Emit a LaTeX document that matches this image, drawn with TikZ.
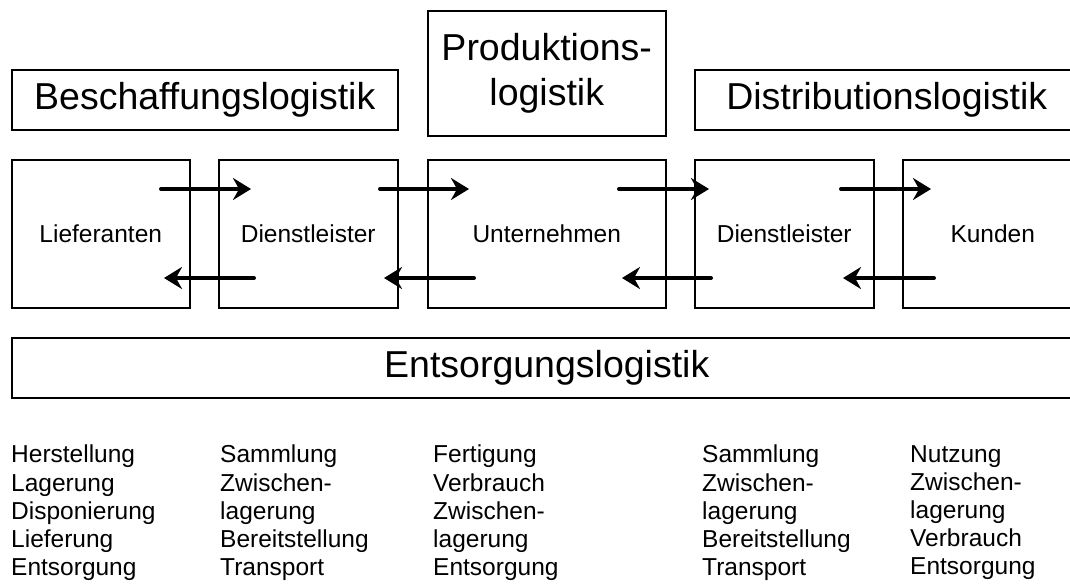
\documentclass[tikz,border=0pt]{standalone}
\usepackage{fontspec}
\setmainfont{Liberation Sans}
\usetikzlibrary{arrows.meta}

\tikzset{
  box/.style={draw, line width=1.5pt, inner sep=0pt, anchor=north west},
  bigtext/.style={font=\fontsize{37.5}{45}\selectfont},
  smalltext/.style={font=\fontsize{24.5}{28.2}\selectfont},
  flow/.style={line width=4pt, line cap=round,
    -{Stealth[length=18pt,width=22pt,inset=6pt]}},
  listcol/.style={smalltext, align=left, inner sep=0pt, anchor=north west}
}

\begin{document}
\begin{tikzpicture}[x=1pt,y=1pt]
  \useasboundingbox (0,0) rectangle (1070,-584);

  % top row: logistics areas
  \node[box, bigtext, minimum width=386pt, minimum height=60pt] (besch) at (11,-69) {Beschaffungslogistik};
  \node[box, bigtext, minimum width=238pt, minimum height=125pt, align=center] (prod) at (427,-10) {Produktions-\\logistik};
  \node[box, bigtext, minimum width=384pt, minimum height=60pt] (distr) at (694,-69) {Distributionslogistik};

  % middle row: participants of the supply chain
  \node[box, smalltext, minimum width=178pt, minimum height=148pt] (lief) at (11,-159) {Lieferanten};
  \node[box, smalltext, minimum width=179pt, minimum height=148pt] (dl1) at (218,-159) {Dienstleister};
  \node[box, smalltext, minimum width=238pt, minimum height=148pt] (unt) at (427,-159) {Unternehmen};
  \node[box, smalltext, minimum width=179pt, minimum height=148pt] (dl2) at (694,-159) {Dienstleister};
  \node[box, smalltext, minimum width=180pt, minimum height=148pt] (kund) at (902,-159) {Kunden};

  % bottom bar
  \node[box, bigtext, minimum width=1070pt, minimum height=60pt] (ents) at (11,-337) {Entsorgungslogistik};

  % arrow end points
  \coordinate (r1s) at (161,-189); \coordinate (r1e) at (251,-189);
  \coordinate (r2s) at (380,-189); \coordinate (r2e) at (469,-189);
  \coordinate (r3s) at (619,-189); \coordinate (r3e) at (709,-189);
  \coordinate (r4s) at (841,-189); \coordinate (r4e) at (931,-189);
  \coordinate (l1s) at (254,-278); \coordinate (l1e) at (164,-278);
  \coordinate (l2s) at (474,-278); \coordinate (l2e) at (384,-278);
  \coordinate (l3s) at (711,-278); \coordinate (l3e) at (622,-278);
  \coordinate (l4s) at (934,-278); \coordinate (l4e) at (843,-278);

  % forward and backward flows
  \foreach \a in {r1,r2,r3,r4,l1,l2,l3,l4}
    \draw[flow] (\a s) -- (\a e);

  % activities per participant
  \node[listcol] (c1) at (11,-445) {Herstellung\\Lagerung\\Disponierung\\Lieferung\\Entsorgung};
  \node[listcol] (c2) at (220,-445) {Sammlung\\Zwischen-\\lagerung\\Bereitstellung\\Transport};
  \node[listcol] (c3) at (433,-445) {Fertigung\\Verbrauch\\Zwischen-\\lagerung\\Entsorgung};
  \node[listcol] (c4) at (702,-445) {Sammlung\\Zwischen-\\lagerung\\Bereitstellung\\Transport};
  \node[listcol] (c5) at (910,-445) {Nutzung\\Zwischen-\\lagerung\\Verbrauch\\Entsorgung};
\end{tikzpicture}
\end{document}
